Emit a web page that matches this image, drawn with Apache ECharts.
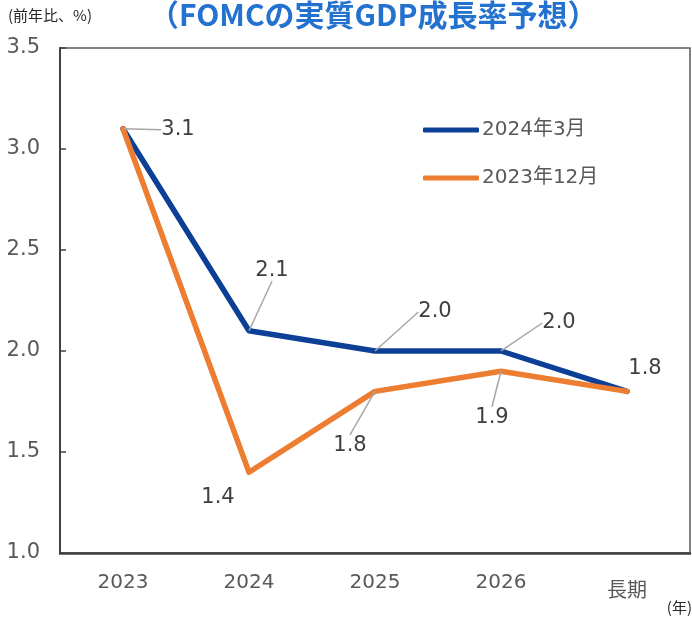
<!DOCTYPE html>
<html>
<head>
<meta charset="utf-8">
<script src="https://cdn.jsdelivr.net/npm/echarts@6/dist/echarts.min.js"></script>
<style>
  html, body { margin: 0; padding: 0; background: #fff; }
  #main { width: 692px; height: 619px; }
</style>
</head>
<body>
<div id="main"></div>
<script>
// FOMC real GDP growth projections
const categories = ['2023', '2024', '2025', '2026', '長期'];
const march2024 = [3.1, 2.1, 2.0, 2.0, 1.8];
const dec2023 = [3.1, 1.4, 1.8, 1.9, 1.8];
const yTicks = [1.0, 1.5, 2.0, 2.5, 3.0, 3.5];

const font = 'DejaVu Sans, "Noto Sans CJK JP", sans-serif';
const cjkFont = '"Noto Sans CJK JP", sans-serif';
const textColor = '#404040';

// label offsets from each point (dx, dy, leader line on/off)
const labelPos = [
  [[55, 1, true], [23, -60, true], [60, -39, true], [58, -28, true], [18, -23, false]],
  [null, [-31, 25, false], [-25, 54, true], [-9, 46, true], null]
];

function makeData(values, s) {
  return values.map((v, i) => {
    const p = labelPos[s][i];
    return {
      value: v,
      label: { show: !!p },
      labelLine: { show: !!(p && p[2]) }
    };
  });
}

const chart = echarts.init(document.getElementById('main'));

const option = {
  animation: false,
  textStyle: { fontFamily: font },
  title: {
    text: '（FOMCの実質GDP成長率予想）',
    left: 144,
    top: -5,
    textStyle: {
      fontFamily: cjkFont,
      fontWeight: 'bold',
      fontSize: 30,
      color: '#2472d0'
    }
  },
  graphic: [
    {
      type: 'text', left: 8, top: 8,
      style: { text: '(前年比、%)', fontSize: 15, fill: '#262626', fontFamily: cjkFont }
    },
    {
      type: 'text', right: 0, top: 600,
      style: { text: '(年)', fontSize: 15, fill: '#262626', fontFamily: cjkFont }
    }
  ],
  legend: {
    orient: 'vertical',
    left: 418,
    top: 115,
    itemGap: 28,
    itemWidth: 56,
    itemHeight: 5,
    icon: 'roundRect',
    textStyle: { fontSize: 20, color: '#595959', fontFamily: font, padding: [0, 0, 0, -2] },
    data: ['2024年3月', '2023年12月']
  },
  grid: {
    left: 60, right: 2, top: 48, bottom: 66,
    show: true,
    borderColor: '#595959',
    borderWidth: 1.5
  },
  xAxis: {
    type: 'category',
    data: categories,
    boundaryGap: true,
    axisLine: { lineStyle: { color: '#404040', width: 2.5 } },
    axisTick: { inside: true, length: 8, interval: 0, lineStyle: { color: '#404040', width: 1.5 } },
    axisLabel: {
      interval: 0,
      margin: 20,
      formatter: v => /^\d+$/.test(v) ? '{n|' + v + '}' : '{cjk|' + v + '}',
      rich: {
        n: { fontSize: 20, color: '#595959', fontFamily: font, padding: [0, 0, 6, 0] },
        cjk: { fontSize: 20, color: '#595959', fontFamily: cjkFont, padding: [6, 0, 0, 0] }
      }
    },
    splitLine: { show: false }
  },
  yAxis: {
    type: 'value',
    min: yTicks[0],
    max: yTicks[yTicks.length - 1],
    interval: 0.5,
    axisLine: { show: true, lineStyle: { color: '#404040', width: 2 } },
    axisTick: { show: true, inside: true, length: 6, lineStyle: { color: '#404040', width: 1.5 } },
    axisLabel: { fontSize: 21, color: '#595959', margin: 20, formatter: v => v.toFixed(1) },
    splitLine: { show: false }
  },
  series: [
    {
      name: '2024年3月',
      type: 'line',
      data: makeData(march2024, 0),
      color: '#0c3f96',
      lineStyle: { width: 5.5, cap: 'round', join: 'round' },
      symbol: 'circle',
      symbolSize: 0.1,
      label: { show: true, position: 'inside', fontSize: 21, color: textColor, formatter: p => p.value.toFixed(1) },
      labelLine: { show: true, lineStyle: { color: '#a6a6a6', width: 1.5 } },
      labelLayout: p => { const o = labelPos[0][p.dataIndex]; return o ? { dx: o[0], dy: o[1] } : {}; }
    },
    {
      name: '2023年12月',
      type: 'line',
      data: makeData(dec2023, 1),
      color: '#ed7d31',
      lineStyle: { width: 5.5, cap: 'round', join: 'round' },
      symbol: 'circle',
      symbolSize: 0.1,
      label: { show: true, position: 'inside', fontSize: 21, color: textColor, formatter: p => p.value.toFixed(1) },
      labelLine: { show: true, lineStyle: { color: '#a6a6a6', width: 1.5 } },
      labelLayout: p => { const o = labelPos[1][p.dataIndex]; return o ? { dx: o[0], dy: o[1] } : {}; }
    }
  ]
};

chart.setOption(option);
</script>
</body>
</html>
